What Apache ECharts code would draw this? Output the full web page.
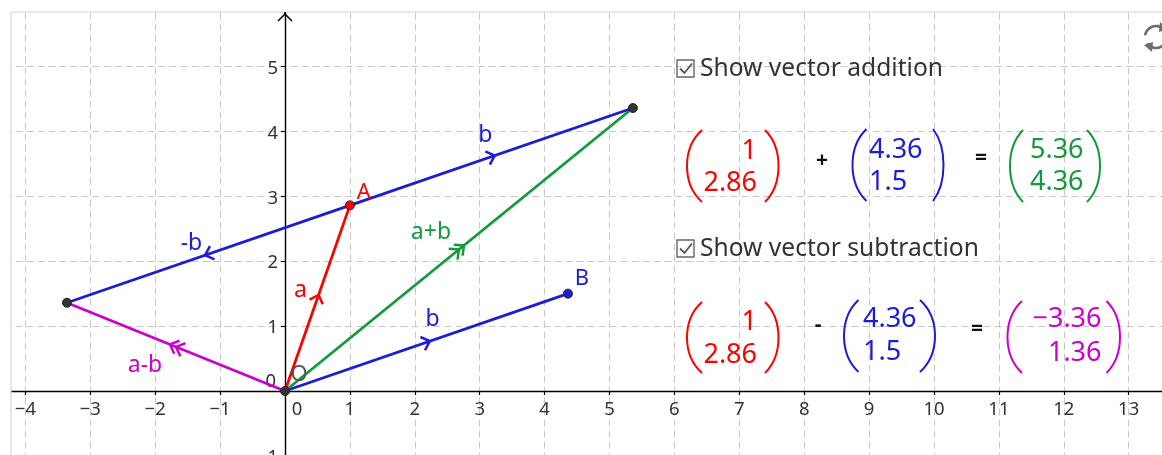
<!DOCTYPE html>
<html>
<head>
<meta charset="utf-8">
<script src="https://cdn.jsdelivr.net/npm/echarts@6.0.0/dist/echarts.min.js"></script>
<style>
html,body{margin:0;padding:0;background:#fff;}
#c{width:1162px;height:455px;}
</style>
</head>
<body>
<div id="c"></div>
<script>
// ---------- data ----------
const O = [0, 0];
const A = [1, 2.86];
const B = [4.36, 1.5];
const SUM = [5.36, 4.36];
const DIFF = [-3.36, 1.36];

const pointNames = ['O', 'A', 'B', '', ''];
const pointCoords = [O, A, B, SUM, DIFF];

const segmentNames = ['a', 'b', 'a+b', 'b', '-b', 'a-b'];
const segmentStarts = [O, O, O, A, A, O];
const segmentEnds = [A, B, SUM, SUM, DIFF, DIFF];
const segmentArrowCount = [1, 1, 2, 1, 1, 2];

const xTickValues = [-4, -3, -2, -1, 0, 1, 2, 3, 4, 5, 6, 7, 8, 9, 10, 11, 12, 13];
const yTickValues = [-1, 0, 1, 2, 3, 4, 5];

const checkboxTexts = ['Show vector addition', 'Show vector subtraction'];
const operatorTexts = ['+', '=', '-', '='];

// ---------- styles ----------
const C = {
  red: '#ff0000', blue: '#1c1cd6', green: '#139a3c', magenta: '#cc00cc',
  dark: '#333333', text: '#333333', grid: '#c8c8c8'
};
const FONT = '"Noto Sans"';
const segColors = [C.red, C.blue, C.green, C.blue, C.blue, C.magenta];
const segLabelOffsets = [[-17, -8], [6, -23], [-28, -17], [-6, -21], [-17, -11], [-31, 19]];
const pointColors = [C.dark, C.red, C.blue, C.dark, C.dark];
const pointLabelColors = ['#555555', C.red, C.blue, C.dark, C.dark];
const pointLabelOffsets = [[14, -16], [14, -13], [14, -15], [0, 0], [0, 0]];

// layout: pixel origin and unit
const U = 64.9, X0 = 285, Y0 = 391, W = 1162, H = 455;
const xMin = -5, xMax = 14, yMin = -1, yMax = 6;

function fmtNum(v) {
  return v < 0 ? '\u2212' + String(Math.abs(v)) : String(v);
}

const chart = echarts.init(document.getElementById('c'), null, {renderer: 'canvas'});

function renderSegment(params, api) {
  const i = api.value(4);
  const p1 = api.coord([api.value(0), api.value(1)]);
  const p2 = api.coord([api.value(2), api.value(3)]);
  const col = segColors[i];
  const dx = p2[0] - p1[0], dy = p2[1] - p1[1];
  const len = Math.sqrt(dx * dx + dy * dy);
  const ux = dx / len, uy = dy / len;
  const nx = -uy, ny = ux;
  const mx = (p1[0] + p2[0]) / 2, my = (p1[1] + p2[1]) / 2;
  const children = [{
    type: 'line',
    shape: {x1: p1[0], y1: p1[1], x2: p2[0], y2: p2[1]},
    style: {stroke: col, lineWidth: 2.8}
  }];
  const n = segmentArrowCount[i];
  const L = 7.5, Wd = 7, gap = 6.5;
  for (let k = 0; k < n; k++) {
    const shift = (n === 1) ? 3.5 : (k === 0 ? 0 : gap);
    const tx = mx + ux * shift, ty = my + uy * shift;
    children.push({
      type: 'polyline',
      shape: {points: [
        [tx - ux * L + nx * Wd, ty - uy * L + ny * Wd],
        [tx, ty],
        [tx - ux * L - nx * Wd, ty - uy * L - ny * Wd]
      ]},
      style: {stroke: col, lineWidth: 2.5, fill: null}
    });
  }
  const off = segLabelOffsets[i];
  children.push({
    type: 'text',
    style: {
      text: segmentNames[i], x: mx + off[0], y: my + off[1],
      fill: col, fontSize: 23, fontFamily: FONT,
      align: 'center', verticalAlign: 'middle',
      textAlign: 'center', textVerticalAlign: 'middle'
    }
  });
  return {type: 'group', children: children};
}

function tickText(text, x, y, align) {
  return {
    type: 'text',
    style: {
      text: text, x: x, y: y, fill: C.text, fontSize: 18.5, fontFamily: FONT,
      align: align, verticalAlign: 'middle', textAlign: align, textVerticalAlign: 'middle'
    }
  };
}
function renderXTick(params, api) {
  const v = api.value(0);
  const p = api.coord([v, 0]);
  return tickText(fmtNum(v), p[0] + (v === 0 ? 12 : 0), p[1] + 19, 'center');
}
function renderYTick(params, api) {
  const v = api.value(1);
  const p = api.coord([0, v]);
  return tickText(fmtNum(v), p[0] - (v === 0 ? 9 : 7), p[1] + (v === 0 ? -9 : 2), 'right');
}

function txt(text, x, y, color, size, align, weight) {
  return {
    type: 'text', z: 100,
    style: {
      text: text, x: x, y: y, fill: color, fontSize: size, fontFamily: FONT,
      fontWeight: weight || 'normal',
      align: align, verticalAlign: 'middle',
      textAlign: align, textVerticalAlign: 'middle'
    }
  };
}
function paren(xEnd, xBulge, yTop, yBot, color) {
  const h = yBot - yTop;
  const cx = (4 * xBulge - xEnd) / 3;
  return {
    type: 'bezierCurve', z: 100,
    shape: {x1: xEnd, y1: yTop, x2: xEnd, y2: yBot,
            cpx1: cx, cpy1: yTop + h * 0.25, cpx2: cx, cpy2: yBot - h * 0.25},
    style: {stroke: color, lineWidth: 2, fill: null}
  };
}
function matrix(vec, color, xAnchor, align, y1, y2, lp, rp, yTop, yBot) {
  return [
    paren(lp[0], lp[1], yTop, yBot, color),
    paren(rp[0], rp[1], yTop, yBot, color),
    txt(fmtNum(vec[0]), xAnchor, y1, color, 27, align),
    txt(fmtNum(vec[1]), xAnchor, y2, color, 27, align)
  ];
}
function checkbox(x, y) {
  return [
    {type: 'rect', z: 100, shape: {x: x, y: y, width: 17, height: 17},
     style: {stroke: '#666', lineWidth: 1.4, fill: null}},
    {type: 'polyline', z: 100,
     shape: {points: [[x + 3, y + 8.5], [x + 7.5, y + 13], [x + 15, y + 3.5]]},
     style: {stroke: '#555', lineWidth: 1.8, fill: null}}
  ];
}

const graphics = [
  // frame covers
  {type: 'rect', z: 90, shape: {x: 0, y: 0, width: 11, height: H}, style: {fill: '#fff'}},
  {type: 'rect', z: 90, shape: {x: 0, y: 0, width: W, height: 12}, style: {fill: '#fff'}},
  {type: 'line', z: 91, shape: {x1: 11, y1: 12, x2: 11, y2: H}, style: {stroke: '#d6d6d6', lineWidth: 1.2}},
  {type: 'line', z: 91, shape: {x1: 11, y1: 12, x2: W, y2: 12}, style: {stroke: '#d6d6d6', lineWidth: 1.2}},
  // y axis arrow
  {type: 'line', z: 92, shape: {x1: X0, y1: 12, x2: X0, y2: 15}, style: {stroke: '#000', lineWidth: 1.4}},
  {type: 'polyline', z: 92, shape: {points: [[X0 - 7, 21], [X0, 14], [X0 + 7, 21]]},
   style: {stroke: '#000', lineWidth: 1.5, fill: null}},
  // refresh icon
  {type: 'arc', z: 100, shape: {cx: 1156, cy: 37, r: 11, startAngle: Math.PI * 1.05, endAngle: Math.PI * 1.8},
   style: {stroke: '#6e6e6e', lineWidth: 2.6, fill: null}},
  {type: 'arc', z: 100, shape: {cx: 1156, cy: 37, r: 11, startAngle: Math.PI * 0.05, endAngle: Math.PI * 0.8},
   style: {stroke: '#6e6e6e', lineWidth: 2.6, fill: null}},
  {type: 'polygon', z: 100, shape: {points: [[1160, 22], [1168, 29], [1159, 32]]}, style: {fill: '#6e6e6e'}},
  {type: 'polygon', z: 100, shape: {points: [[1152, 52], [1144, 45], [1153, 42]]}, style: {fill: '#6e6e6e'}},
  // texts
  ...checkbox(677, 60),
  txt(checkboxTexts[0], 700, 68.5, '#333', 24.6, 'left'),
  ...checkbox(677, 240),
  txt(checkboxTexts[1], 700, 248.5, '#333', 24.6, 'left'),
  // addition row
  ...matrix(A, C.red, 757, 'right', 151, 183, [702, 687], [765, 778.5], 130, 202),
  txt(operatorTexts[0], 822, 161, '#111', 21, 'center', 'bold'),
  ...matrix(B, C.blue, 869, 'left', 150, 182, [866.5, 852.5], [933, 943.5], 129, 201),
  txt(operatorTexts[1], 981, 158, '#111', 21, 'center', 'bold'),
  ...matrix(SUM, C.green, 1030, 'left', 150, 182, [1023, 1010], [1087, 1100], 130, 202),
  // subtraction row
  ...matrix(A, C.red, 757, 'right', 322, 355, [702, 687], [765, 778.5], 302, 373),
  txt(operatorTexts[2], 818, 325, '#111', 21, 'center', 'bold'),
  ...matrix(B, C.blue, 863, 'left', 319, 352.5, [858.5, 844], [920, 935], 300, 372),
  txt(operatorTexts[3], 977, 329, '#111', 21, 'center', 'bold'),
  ...matrix(DIFF, C.magenta, 1101.5, 'right', 319, 353, [1022, 1007.5], [1106.5, 1120], 301, 373)
];

const option = {
  backgroundColor: '#ffffff',
  animation: false,
  grid: {
    left: X0 + xMin * U,
    right: W - (X0 + xMax * U),
    top: Y0 - yMax * U,
    bottom: H - (Y0 - yMin * U),
    containLabel: false,
    outerBoundsMode: 'none'
  },
  xAxis: {
    type: 'value', min: xMin, max: xMax, interval: 1,
    axisLine: {onZero: true, lineStyle: {color: '#000', width: 1.4}},
    axisTick: {show: true, length: 4, lineStyle: {color: '#000', width: 1.2}},
    axisLabel: {show: false},
    splitLine: {show: true, lineStyle: {color: C.grid, width: 1, type: [7, 4]}}
  },
  yAxis: {
    type: 'value', min: yMin, max: yMax, interval: 1,
    axisLine: {onZero: true, lineStyle: {color: '#000', width: 1.4}},
    axisTick: {show: true, length: 4, lineStyle: {color: '#000', width: 1.2}},
    axisLabel: {show: false},
    splitLine: {show: true, lineStyle: {color: C.grid, width: 1, type: [7, 4]}}
  },
  series: [
    {
      type: 'custom', coordinateSystem: 'cartesian2d', clip: false, z: 1, silent: true,
      encode: {x: 0, y: 1},
      data: xTickValues.map(v => [v, 0]),
      renderItem: renderXTick
    },
    {
      type: 'custom', coordinateSystem: 'cartesian2d', clip: false, z: 1, silent: true,
      encode: {x: 0, y: 1},
      data: yTickValues.map(v => [0, v]),
      renderItem: renderYTick
    },
    {
      type: 'custom',
      coordinateSystem: 'cartesian2d',
      clip: false,
      z: 3,
      encode: {x: [0, 2], y: [1, 3]},
      data: segmentStarts.map((s, i) => [s[0], s[1], segmentEnds[i][0], segmentEnds[i][1], i]),
      renderItem: renderSegment
    },
    {
      type: 'scatter',
      z: 5,
      symbolSize: 9,
      itemStyle: {borderColor: '#222', borderWidth: 1, opacity: 1},
      data: pointCoords.map((c, i) => ({
        value: c,
        itemStyle: {color: pointColors[i]},
        label: {
          show: pointNames[i] !== '',
          position: 'inside',
          formatter: pointNames[i],
          offset: pointLabelOffsets[i],
          color: pointLabelColors[i],
          fontSize: 22,
          fontFamily: FONT
        }
      })),
      emphasis: {disabled: true}
    }
  ],
  graphic: {elements: graphics}
};
chart.setOption(option);
</script>
</body>
</html>
